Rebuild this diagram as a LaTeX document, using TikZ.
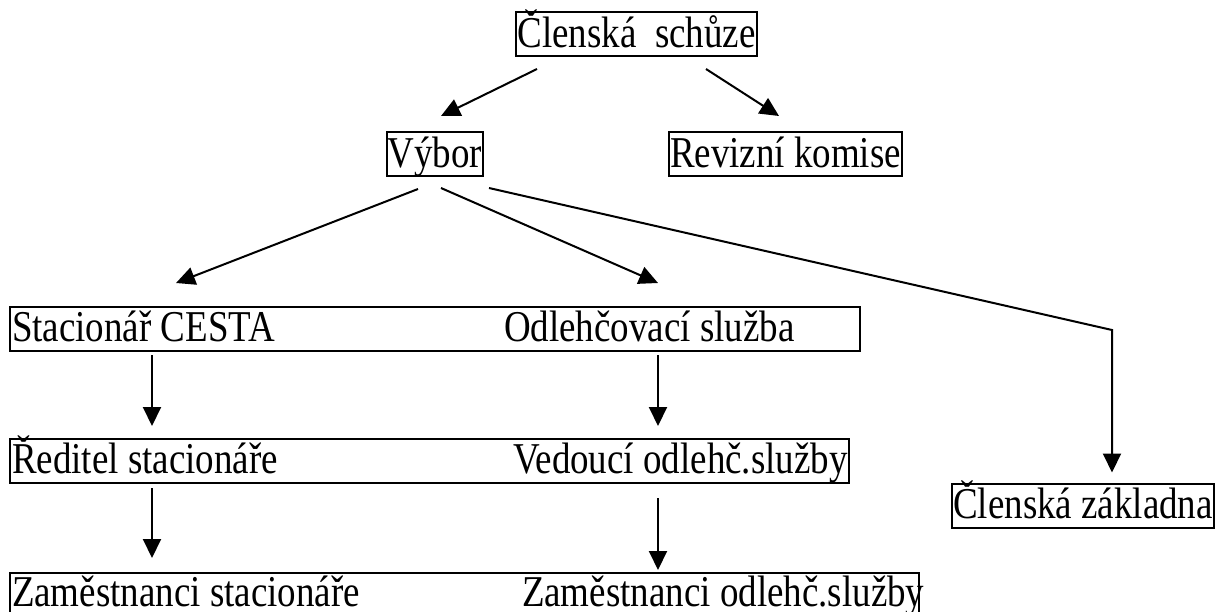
\documentclass[tikz,border=0pt]{standalone}
\usepackage{fontspec}
\setmainfont{Liberation Serif}[FakeStretch=0.84]
\usetikzlibrary{arrows.meta}
\usetikzlibrary{calc}

\begin{document}
\begin{tikzpicture}[x=0.5pt, y=-0.5pt, line width=1pt,
        box_style/.style={draw=black, line width=1pt, inner xsep=0.5pt, inner ysep=0.5pt, text height=17pt, text depth=4pt, font=\fontsize{22}{26}\selectfont},
        row_style/.style={draw=black, line width=1pt, anchor=north west, inner sep=0pt, minimum height=22pt},
        label_style/.style={anchor=base west, inner sep=0pt, font=\fontsize{22}{26}\selectfont},
        edge_style/.style={draw=black, line width=1pt, -{Triangle[length=9.5pt,width=9pt]}}]

        \useasboundingbox (0,0) rectangle (1215,611);

        \node [box_style](n1) at (636.5,34) {Členská\ \ schůze};
        \node [box_style](n2) at (435,154) {Výbor};
        \node [box_style](n3) at (785.5,154) {Revizní komise};
        \node [box_style](n4) at (1083,505.5) {Členská základna};
        \node [row_style, minimum width=425pt](r1) at (9,306) {};
        \node [row_style, minimum width=419.5pt](r2) at (9,438) {};
        \node [row_style, minimum width=454.5pt, minimum height=30pt](r3) at (9,572) {};
        \node [label_style](n5) at (11,341) {Stacionář CESTA};
        \node [label_style](n6) at (503,341) {Odlehčovací služba};
        \node [label_style](n7) at (11,473) {Ředitel stacionáře};
        \node [label_style](n8) at (512,473) {Vedoucí odlehč.služby};
        \node [label_style](n9) at (11,606) {Zaměstnanci stacionáře};
        \node [label_style](n10) at (521,606) {Zaměstnanci odlehč.služby};
        \coordinate (k1) at (1112,330);

        \draw [edge_style] ($(n1.south)+(-99.5,12)$) -- ($(n2.north)+(6,-15)$);
        \draw [edge_style] ($(n1.south)+(69.5,12)$) -- ($(n3.north)+(-6.5,-15)$);
        \draw [edge_style] ($(n2.south)+(-17,12)$) -- ($(r1.north west)+(167,-23)$);
        \draw [edge_style] ($(n2.south)+(6,11)$) -- ($(r1.north west)+(649,-23)$);
        \draw [edge_style] ($(n2.south)+(54,11)$) -- (k1) -- ($(n4.north)+(29,-10)$);
        \draw [edge_style] ($(r1.south west)+(143,3)$) -- ($(r2.north west)+(143,-12)$);
        \draw [edge_style] ($(r1.south west)+(649,3)$) -- ($(r2.north west)+(649,-12)$);
        \draw [edge_style] ($(r2.south west)+(143,4)$) -- ($(r3.north west)+(143,-14)$);
        \draw [edge_style] ($(r2.south west)+(649,14)$) -- ($(r3.north west)+(649,-2)$);
\end{tikzpicture}
\end{document}
